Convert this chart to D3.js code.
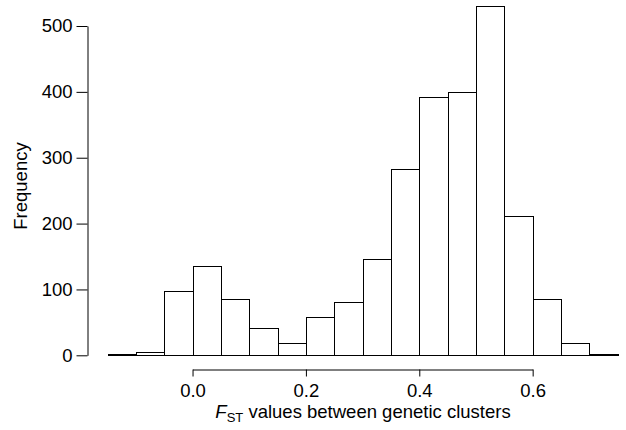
<!DOCTYPE html>
<html lang="en">
<head>
  <meta charset="utf-8">
  <title>FST histogram</title>
  <script src="https://d3js.org/d3.v7.min.js"></script>
  <style>
    body { margin: 0; background: #fff; }
    svg text { font-family: "Liberation Sans", Arial, Helvetica, sans-serif; fill: #000; }
  </style>
</head>
<body>
<div id="chart"></div>
<script>
  // histogram bins (left edge) and counts
  var binStarts = [-0.15, -0.10, -0.05, 0.00, 0.05, 0.10, 0.15, 0.20, 0.25, 0.30, 0.35, 0.40, 0.45, 0.50, 0.55, 0.60, 0.65, 0.70];
  var counts    = [2, 5, 97, 136, 85, 41, 19, 58, 81, 146, 283, 392, 400, 530, 212, 85, 19, 2];
  var binWidth = 0.05;
  var xTicks = [0.0, 0.2, 0.4, 0.6];
  var yTicks = [0, 100, 200, 300, 400, 500];

  var width = 626, height = 430;
  var fontSize = "18.5px";

  var svg = d3.select("#chart")
    .append("svg")
    .attr("width", width)
    .attr("height", height);

  var x = d3.scaleLinear()
    .domain([-0.15, 0.75])
    .range([107.5, 617.7]);

  var y = d3.scaleLinear()
    .domain([0, 500])
    .range([355.3, 26]);

  // bars (tiny counts still get a 1px box so they show as a thick base line)
  svg.append("g")
    .selectAll("rect")
    .data(binStarts)
    .enter()
    .append("rect")
    .attr("x", function(d) { return Math.round(x(d)) + 0.5; })
    .attr("width", function(d) { return Math.round(x(d + binWidth)) - Math.round(x(d)); })
    .attr("y", function(d, i) { return Math.round(y(counts[i])) + 0.5; })
    .attr("height", function(d, i) { return Math.max(1, Math.round(y(0)) - Math.round(y(counts[i]))); })
    .attr("fill", "#fff")
    .attr("stroke", "#000")
    .attr("stroke-width", 1);

  // x axis only spans the labelled range
  var xAxisScale = d3.scaleLinear()
    .domain([0, 0.6])
    .range([x(0), x(0.6)]);

  var gx = svg.append("g")
    .attr("transform", "translate(0," + 369.5 + ")")
    .call(d3.axisBottom(xAxisScale)
      .tickValues(xTicks)
      .tickFormat(d3.format(".1f"))
      .tickSizeOuter(0)
      .tickSizeInner(7)
      .tickPadding(7));

  var gy = svg.append("g")
    .attr("transform", "translate(" + 87.5 + ",0)")
    .call(d3.axisLeft(y)
      .tickValues(yTicks)
      .tickSizeOuter(0)
      .tickSizeInner(11)
      .tickPadding(4));

  [gx, gy].forEach(function(g) {
    g.selectAll("path, line").attr("stroke", "#000").attr("stroke-width", 1);
    g.selectAll("text").attr("font-size", fontSize).attr("fill", "#000")
      .style("font-family", "'Liberation Sans', Arial, Helvetica, sans-serif");
  });

  // axis titles
  svg.append("text")
    .attr("transform", "translate(27,186) rotate(-90)")
    .attr("text-anchor", "middle")
    .attr("font-size", fontSize)
    .text("Frequency");

  var xt = svg.append("text")
    .attr("x", 363)
    .attr("y", 418)
    .attr("text-anchor", "middle")
    .attr("font-size", fontSize);
  xt.append("tspan").attr("font-style", "italic").text("F");
  xt.append("tspan").attr("font-size", "13px").attr("dy", 4).text("ST");
  xt.append("tspan").attr("dy", -4).text(" values between genetic clusters");
</script>
</body>
</html>
